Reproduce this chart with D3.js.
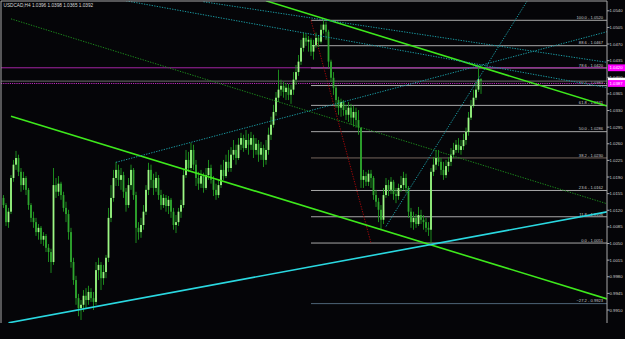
<!DOCTYPE html>
<html>
<head>
<meta charset="utf-8">
<script src="https://cdn.jsdelivr.net/npm/d3@7"></script>
<style>
  html, body { margin: 0; padding: 0; background: #050508; }
  svg { display: block; }
  text { font-family: "Liberation Sans", Arial, sans-serif; }
</style>
</head>
<body>
<svg id="chart"></svg>
<script>
const width = 625
const height = 339

const chartTitle = 'USDCAD,H4  1.0396 1.0398 1.0365 1.0392'

// H4 bars, oldest first. Open of each bar = previous close.
const firstOpen = 1.0146
const closes = [
  1.0131, 1.0095, 1.0117, 1.0188, 1.0216, 1.0230, 1.0201, 1.0173, 1.0188, 1.0163,
  1.0131, 1.0104, 1.0095, 1.0074, 1.0083, 1.0058, 1.0066, 1.0041, 1.0032, 1.0011,
  1.0173, 1.0159, 1.0176, 1.0152, 1.0125, 1.0112, 1.0074, 1.0011, 0.9973, 0.9935,
  0.9914, 0.9921, 0.9940, 0.9931, 0.9948, 0.9935, 0.9927, 0.9994, 1.0005, 0.9977,
  0.9990, 1.0020, 1.0104, 1.0146, 1.0188, 1.0205, 1.0184, 1.0194, 1.0159, 1.0131,
  1.0173, 1.0205, 1.0152, 1.0083, 1.0074, 1.0089, 1.0117, 1.0163, 1.0205, 1.0184,
  1.0167, 1.0188, 1.0152, 1.0131, 1.0146, 1.0129, 1.0142, 1.0117, 1.0089, 1.0095,
  1.0117, 1.0131, 1.0194, 1.0226, 1.0209, 1.0247, 1.0216, 1.0188, 1.0176, 1.0192,
  1.0167, 1.0194, 1.0209, 1.0184, 1.0163, 1.0152, 1.0173, 1.0205, 1.0192, 1.0222,
  1.0209, 1.0237, 1.0247, 1.0230, 1.0258, 1.0272, 1.0251, 1.0268, 1.0258, 1.0272,
  1.0247, 1.0260, 1.0237, 1.0251, 1.0226, 1.0247, 1.0279, 1.0300, 1.0327, 1.0357,
  1.0374, 1.0382, 1.0369, 1.0378, 1.0363, 1.0374, 1.0395, 1.0411, 1.0433, 1.0462,
  1.0483, 1.0475, 1.0479, 1.0454, 1.0468, 1.0483, 1.0475, 1.0500, 1.0511, 1.0496,
  1.0433, 1.0399, 1.0378, 1.0352, 1.0336, 1.0348, 1.0331, 1.0321, 1.0336, 1.0315,
  1.0327, 1.0310, 1.0294, 1.0184, 1.0192, 1.0180, 1.0197, 1.0188, 1.0152, 1.0138,
  1.0121, 1.0100, 1.0152, 1.0173, 1.0163, 1.0180, 1.0154, 1.0150, 1.0167, 1.0173,
  1.0188, 1.0167, 1.0117, 1.0095, 1.0104, 1.0091, 1.0110, 1.0100, 1.0095, 1.0083,
  1.0079, 1.0201, 1.0216, 1.0230, 1.0222, 1.0205, 1.0194, 1.0213, 1.0222, 1.0237,
  1.0247, 1.0258, 1.0247, 1.0255, 1.0268, 1.0285, 1.0315, 1.0340, 1.0357, 1.0374,
  1.0396, 1.0392
]
const highs = [
  1.0152, 1.0135, 1.0125, 1.0194, 1.0226, 1.0245, 1.0237, 1.0209, 1.0201, 1.0192,
  1.0167, 1.0135, 1.0117, 1.0104, 1.0091, 1.0087, 1.0074, 1.0070, 1.0049, 1.0039,
  1.0209, 1.0188, 1.0192, 1.0180, 1.0159, 1.0138, 1.0121, 1.0083, 1.0020, 0.9982,
  0.9944, 0.9931, 0.9952, 0.9956, 0.9961, 0.9956, 0.9948, 1.0011, 1.0020, 1.0011,
  1.0005, 1.0026, 1.0125, 1.0173, 1.0205, 1.0222, 1.0216, 1.0209, 1.0201, 1.0167,
  1.0188, 1.0216, 1.0209, 1.0159, 1.0095, 1.0104, 1.0131, 1.0173, 1.0220, 1.0216,
  1.0197, 1.0201, 1.0194, 1.0163, 1.0154, 1.0152, 1.0150, 1.0146, 1.0125, 1.0110,
  1.0125, 1.0142, 1.0205, 1.0247, 1.0243, 1.0262, 1.0258, 1.0226, 1.0201, 1.0205,
  1.0199, 1.0209, 1.0226, 1.0216, 1.0192, 1.0176, 1.0184, 1.0216, 1.0226, 1.0237,
  1.0247, 1.0253, 1.0268, 1.0258, 1.0272, 1.0283, 1.0279, 1.0289, 1.0281, 1.0285,
  1.0279, 1.0272, 1.0268, 1.0264, 1.0258, 1.0268, 1.0294, 1.0317, 1.0342, 1.0369,
  1.0416, 1.0395, 1.0390, 1.0388, 1.0386, 1.0384, 1.0411, 1.0426, 1.0447, 1.0479,
  1.0494, 1.0492, 1.0487, 1.0483, 1.0479, 1.0494, 1.0489, 1.0511, 1.0520, 1.0517,
  1.0500, 1.0437, 1.0411, 1.0382, 1.0359, 1.0355, 1.0352, 1.0342, 1.0348, 1.0344,
  1.0340, 1.0336, 1.0331, 1.0294, 1.0205, 1.0201, 1.0205, 1.0205, 1.0192, 1.0163,
  1.0146, 1.0131, 1.0167, 1.0188, 1.0184, 1.0190, 1.0184, 1.0167, 1.0176, 1.0192,
  1.0201, 1.0197, 1.0171, 1.0125, 1.0117, 1.0112, 1.0127, 1.0121, 1.0110, 1.0104,
  1.0095, 1.0209, 1.0232, 1.0247, 1.0247, 1.0230, 1.0222, 1.0226, 1.0232, 1.0251,
  1.0262, 1.0268, 1.0272, 1.0268, 1.0281, 1.0294, 1.0327, 1.0352, 1.0374, 1.0390,
  1.0422, 1.0398
]
const lows = [
  1.0125, 1.0087, 1.0083, 1.0112, 1.0180, 1.0205, 1.0192, 1.0159, 1.0163, 1.0152,
  1.0121, 1.0095, 1.0083, 1.0066, 1.0058, 1.0049, 1.0045, 1.0032, 1.0011, 0.9988,
  1.0005, 1.0146, 1.0150, 1.0142, 1.0117, 1.0095, 1.0058, 0.9999, 0.9963, 0.9921,
  0.9897, 0.9889, 0.9906, 0.9914, 0.9921, 0.9927, 0.9910, 0.9921, 0.9973, 0.9952,
  0.9963, 0.9977, 1.0011, 1.0095, 1.0138, 1.0171, 1.0171, 1.0163, 1.0146, 1.0117,
  1.0125, 1.0163, 1.0142, 1.0051, 1.0058, 1.0062, 1.0079, 1.0110, 1.0152, 1.0167,
  1.0152, 1.0159, 1.0142, 1.0121, 1.0125, 1.0117, 1.0112, 1.0104, 1.0079, 1.0072,
  1.0087, 1.0104, 1.0125, 1.0188, 1.0201, 1.0205, 1.0205, 1.0171, 1.0163, 1.0167,
  1.0157, 1.0163, 1.0184, 1.0176, 1.0150, 1.0142, 1.0146, 1.0167, 1.0184, 1.0188,
  1.0201, 1.0201, 1.0226, 1.0216, 1.0226, 1.0247, 1.0243, 1.0247, 1.0237, 1.0247,
  1.0230, 1.0237, 1.0222, 1.0226, 1.0211, 1.0216, 1.0237, 1.0268, 1.0294, 1.0319,
  1.0348, 1.0361, 1.0357, 1.0352, 1.0352, 1.0344, 1.0363, 1.0384, 1.0403, 1.0426,
  1.0454, 1.0466, 1.0454, 1.0445, 1.0437, 1.0462, 1.0464, 1.0471, 1.0492, 1.0479,
  1.0420, 1.0390, 1.0363, 1.0336, 1.0321, 1.0317, 1.0319, 1.0310, 1.0306, 1.0300,
  1.0296, 1.0294, 1.0279, 1.0167, 1.0167, 1.0171, 1.0171, 1.0167, 1.0142, 1.0127,
  1.0095, 1.0079, 1.0091, 1.0146, 1.0150, 1.0154, 1.0142, 1.0135, 1.0142, 1.0159,
  1.0163, 1.0157, 1.0104, 1.0083, 1.0079, 1.0083, 1.0087, 1.0091, 1.0079, 1.0074,
  1.0066, 1.0051, 1.0192, 1.0205, 1.0213, 1.0194, 1.0184, 1.0188, 1.0201, 1.0213,
  1.0230, 1.0241, 1.0241, 1.0237, 1.0247, 1.0258, 1.0277, 1.0310, 1.0336, 1.0352,
  1.0369, 1.0365
]

const priceTicks = [
  0.9910, 0.9945, 0.9980, 1.0015, 1.0050, 1.0085, 1.0120, 1.0155, 1.0190, 1.0225,
  1.0260, 1.0295, 1.0330, 1.0365, 1.0400, 1.0435, 1.0470, 1.0505, 1.0540
]

// Fibonacci retracement: anchor bars and prices, then levels in percent
const fibBars = [123, 147]
const fibPrices = [1.0520, 1.0051]
const fibLevels = [100, 88.6, 78.6, 70.7, 61.8, 50, 38.2, 23.6, 11.8, 0, -27.2]

// Trendlines as [bar, price] anchor pairs, drawn as rays to the right
const trendNames = ['channelTop', 'channelBottom', 'channelMid', 'support', 'fan1', 'fan2', 'fan3', 'fan4']
const trendStart = [[105, 1.0561], [3, 1.0318], [3, 1.0523], [2, 0.9883], [80, 1.0559], [48, 1.0562], [45, 1.0221], [153, 1.0086]]
const trendEnd = [[190, 1.0423], [171, 1.0047], [191, 1.0216], [170, 1.0047], [180, 1.0480], [188, 1.0429], [185, 1.0417], [180, 1.0313]]

// horizontal lines across the chart
const hLineNames = ['alert', 'bid', 'level']
const hLinePrices = [1.0420, 1.0392, 1.0387]

// ---- styles (kept away from the data) ----
const plot = { left: 1, right: 607, top: 1, bottom: 323 }
const trendStyle = {
  channelTop: { stroke: '#3ee81c', width: 1.6, dash: null },
  channelBottom: { stroke: '#3ee81c', width: 1.6, dash: null },
  channelMid: { stroke: '#1c8a1c', width: 1, dash: '1.3,1.3' },
  support: { stroke: '#2ad8e0', width: 1.6, dash: null },
  fan1: { stroke: '#1a9aa2', width: 1, dash: '1.3,1.3' },
  fan2: { stroke: '#1a9aa2', width: 1, dash: '1.3,1.3' },
  fan3: { stroke: '#1a9aa2', width: 1, dash: '1.3,1.3' },
  fan4: { stroke: '#1a9aa2', width: 1, dash: '1.3,1.3' }
}
const hLineStyle = {
  alert: { stroke: '#a424a4', width: 1, dash: null, box: '#ff00ff', text: '#ffffff' },
  bid: { stroke: '#5a5a5a', width: 1.2, dash: null, box: '#ffffff', text: null },
  level: { stroke: '#c22cc2', width: 1, dash: '1.2,1', box: '#ff00ff', text: '#ffffff' }
}
const fibColor = d => d === 38.2 ? '#76675e' : d === -27.2 ? '#4e6478' : '#a8a8a8'

const svg = d3.select('#chart').attr('width', width).attr('height', height)
svg.append('rect').attr('width', width).attr('height', height).attr('fill', '#050508')

const x = d3.scaleLinear().domain([0, closes.length - 1]).range([3.5, 481])
const y = d3.scaleLinear().domain([0.9910, 1.0540]).range([310, 10.8])

svg.append('clipPath').attr('id', 'plotClip')
  .append('rect')
  .attr('x', plot.left).attr('y', plot.top)
  .attr('width', plot.right - plot.left).attr('height', plot.bottom - plot.top)

const g = svg.append('g').attr('clip-path', 'url(#plotClip)')

// Fibonacci levels (behind everything else)
const fibHigh = fibPrices[0], fibLow = fibPrices[1]
const fibData = fibLevels.map(level => ({ level, price: fibLow + (fibHigh - fibLow) * level / 100 }))
const fibX0 = x(fibBars[0])

g.selectAll('line.fib').data(fibData).join('line')
  .attr('class', 'fib')
  .attr('x1', fibX0).attr('x2', plot.right)
  .attr('y1', d => y(d.price)).attr('y2', d => y(d.price))
  .attr('stroke', d => fibColor(d.level))
  .attr('stroke-width', 1)

g.selectAll('text.fib').data(fibData).join('text')
  .attr('class', 'fib')
  .attr('x', 603).attr('y', d => y(d.price) - 1.2)
  .attr('text-anchor', 'end')
  .attr('font-size', 4.1)
  .attr('fill', '#c8c8c8')
  .text(d => `${d3.format('.1f')(d.level)} - ${d3.format('.4f')(d.price)}`)

g.append('line')
  .attr('x1', x(fibBars[0])).attr('y1', y(fibHigh))
  .attr('x2', x(fibBars[1])).attr('y2', y(fibLow))
  .attr('stroke', '#a00808').attr('stroke-width', 1)
  .attr('stroke-dasharray', '1.3,1.3')

// horizontal lines
const hLines = hLineNames.map((name, i) => ({ name, price: hLinePrices[i] }))
g.selectAll('line.hl').data(hLines).join('line')
  .attr('class', 'hl')
  .attr('x1', plot.left).attr('x2', plot.right)
  .attr('y1', d => y(d.price)).attr('y2', d => y(d.price))
  .attr('stroke', d => hLineStyle[d.name].stroke)
  .attr('stroke-width', d => hLineStyle[d.name].width)
  .attr('stroke-dasharray', d => hLineStyle[d.name].dash)

// candles
const bars = closes.map((c, i) => ({
  i,
  open: i === 0 ? firstOpen : closes[i - 1],
  close: c,
  high: highs[i],
  low: lows[i]
}))

const candle = g.selectAll('g.bar').data(bars).join('g').attr('class', 'bar')
candle.append('line')
  .attr('x1', d => x(d.i)).attr('x2', d => x(d.i))
  .attr('y1', d => y(d.high)).attr('y2', d => y(d.low))
  .attr('stroke', '#1f981f').attr('stroke-width', 0.9)
candle.append('rect')
  .attr('x', d => x(d.i) - 0.9)
  .attr('width', 1.8)
  .attr('y', d => y(Math.max(d.open, d.close)))
  .attr('height', d => Math.max(0.7, Math.abs(y(d.open) - y(d.close))))
  .attr('fill', d => d.close >= d.open ? '#9cf884' : '#2fa62f')

// trendlines (rays to the right edge)
function rayTo(a, b, xe) {
  const x1 = x(a[0]), y1 = y(a[1]), x2 = x(b[0]), y2 = y(b[1])
  return [x1, y1, xe, y1 + (xe - x1) * (y2 - y1) / (x2 - x1)]
}
const trends = trendNames.map((name, i) => ({ name, seg: rayTo(trendStart[i], trendEnd[i], plot.right) }))

g.selectAll('line.trend').data(trends).join('line')
  .attr('class', 'trend')
  .attr('x1', d => d.seg[0]).attr('y1', d => d.seg[1])
  .attr('x2', d => d.seg[2]).attr('y2', d => d.seg[3])
  .attr('stroke', d => trendStyle[d.name].stroke)
  .attr('stroke-width', d => trendStyle[d.name].width)
  .attr('stroke-dasharray', d => trendStyle[d.name].dash)
  .attr('stroke-linecap', 'butt')

// frame and price axis
svg.append('path')
  .attr('d', `M${plot.left},${plot.bottom}V${plot.top}H${plot.right}V${plot.bottom}`)
  .attr('fill', 'none').attr('stroke', '#a8a8a8').attr('stroke-width', 1)

svg.selectAll('line.tick').data(priceTicks).join('line')
  .attr('class', 'tick')
  .attr('x1', plot.right).attr('x2', plot.right + 2.5)
  .attr('y1', d => y(d)).attr('y2', d => y(d))
  .attr('stroke', '#a8a8a8')

svg.selectAll('text.tick').data(priceTicks).join('text')
  .attr('class', 'tick')
  .attr('x', 609.5).attr('y', d => y(d))
  .attr('dy', '0.35em')
  .attr('font-size', 4.3)
  .attr('fill', '#d0d0d0')
  .text(d => d3.format('.4f')(d))

// price boxes for the horizontal lines; the level box sits over the bid box
const box = svg.selectAll('g.pbox').data(hLines).join('g').attr('class', 'pbox')
box.append('rect')
  .attr('x', 608).attr('width', width - 608)
  .attr('y', d => y(d.price) - 3.4).attr('height', 6.8)
  .attr('fill', d => hLineStyle[d.name].box)
box.filter(d => hLineStyle[d.name].text).append('text')
  .attr('x', 609.5).attr('y', d => y(d.price))
  .attr('dy', '0.35em')
  .attr('font-size', 4.3)
  .attr('fill', d => hLineStyle[d.name].text)
  .text(d => d3.format('.4f')(d.price))

svg.append('text')
  .attr('x', 3.5).attr('y', 6.8)
  .attr('font-size', 4.7)
  .attr('fill', '#d8d8d8')
  .text(chartTitle)
</script>
</body>
</html>
